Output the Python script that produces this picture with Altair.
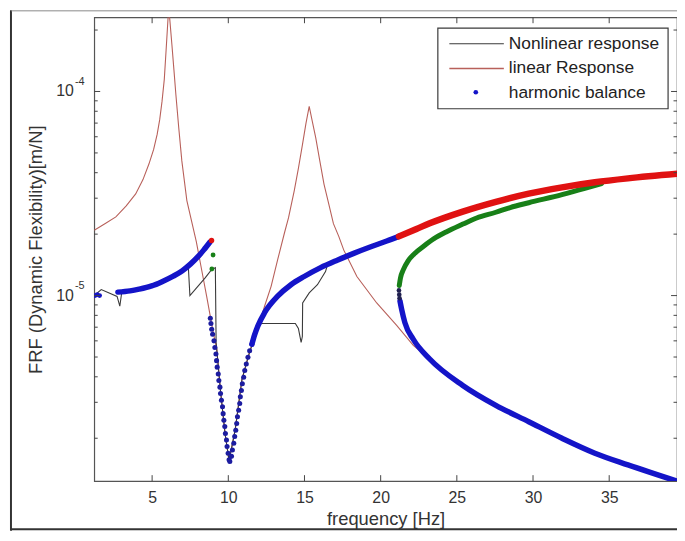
import altair as alt
import pandas as pd

# ---------------- data ----------------
# linear response (thin brownish red)
lin_f = [1.2, 1.9, 2.62, 3.3, 3.92, 4.4, 4.79, 5.1, 5.33, 5.5, 5.65, 5.8, 5.91, 6.09, 6.3,
         6.43, 6.56, 6.75, 6.95, 7.28, 7.9, 8.2, 8.58, 9.01, 9.24, 9.49, 9.79, 10.05, 10.45, 10.9,
         11.4, 11.94, 12.38, 12.81, 13.24, 13.68, 13.95, 14.33, 14.6, 14.87, 15.1, 15.31, 15.52, 15.74, 16.0,
         16.28, 16.6, 16.9, 17.25, 17.58, 18.44, 19.74, 21.05, 22.14, 23.22, 25.39, 27.56, 29.72, 31.9, 34.06,
         36.23, 39.48]
lin_y = [2.09e-5, 2.25e-5, 2.43e-5, 2.75e-5, 3.15e-5, 3.7e-5, 4.41e-5, 5.2e-5, 6.16e-5, 7.3e-5,
         8.94e-5, 1.15e-4, 1.56e-4, 2.6e-4, 1.69e-4, 1.28e-4, 9.63e-5, 6.6e-5, 4.57e-5, 2.92e-5,
         1.84e-5, 1.4e-5, 9.9e-6, 6.6e-6, 5.5e-6, 3.4e-6, 2.1e-6, 1.55e-6, 2.2e-6, 3.9e-6,
         5.3e-6, 6.9e-6, 8.87e-6, 1.11e-5, 1.5e-5, 2.02e-5, 2.4e-5, 3.27e-5, 4.2e-5, 5.51e-5,
         7.0e-5, 8.45e-5, 7.1e-5, 5.93e-5, 4.6e-5, 3.52e-5, 2.8e-5, 2.25e-5, 1.95e-5, 1.67e-5,
         1.24e-5, 9.2e-6, 7.15e-6, 5.7e-6, 4.89e-6, 3.63e-6, 2.9e-6, 2.41e-6, 2.0e-6, 1.69e-6,
         1.48e-6, 1.23e-6]

# nonlinear response (thin black)
nl_f = [1.2, 1.66, 2.18, 2.7, 2.88, 3.0, 3.55, 4.14, 4.97, 5.65, 6.39, 6.96, 7.38, 7.48, 8.48,
        8.9, 9.15, 9.2, 9.49, 9.79, 10.05, 10.45, 10.9, 11.4, 11.94, 12.16, 14.4, 14.6, 14.78, 14.86,
        14.88, 15.31, 15.85, 16.38, 16.49, 17.15, 18.23, 19.31, 20.4, 21.2, 23.22, 25.39, 27.56, 29.72, 31.9,
        34.06, 36.23, 39.48]
nl_y = [1.0e-5, 1.07e-5, 1.03e-5, 9.9e-6, 8.87e-6, 1.03e-5, 1.05e-5, 1.07e-5, 1.11e-5, 1.16e-5,
        1.24e-5, 1.31e-5, 1.37e-5, 1.0e-5, 1.22e-5, 1.34e-5, 1.37e-5, 5.9e-6, 3.4e-6, 2.1e-6,
        1.55e-6, 2.2e-6, 3.9e-6, 5.3e-6, 6.9e-6, 7.3e-6, 7.3e-6, 6.9e-6, 5.9e-6, 6.3e-6,
        9.2e-6, 1.03e-5, 1.13e-5, 1.31e-5, 1.4e-5, 1.49e-5, 1.61e-5, 1.73e-5, 1.85e-5, 1.95e-5,
        2.26e-5, 2.58e-5, 2.88e-5, 3.16e-5, 3.39e-5, 3.59e-5, 3.75e-5, 3.95e-5]

# harmonic balance: blue dots at the very start
hb_a_f = [1.25, 1.4, 1.55]
hb_a_y = [1.0e-5, 1.01e-5, 1.0e-5]
# blue branch up to the first jump
hb_b_f = [2.75, 3.55, 4.14, 4.97, 5.65, 6.39, 6.96, 7.53, 8.04, 8.38, 8.8]
hb_b_y = [1.04e-5, 1.055e-5, 1.075e-5, 1.115e-5, 1.17e-5, 1.245e-5, 1.32e-5, 1.43e-5, 1.56e-5, 1.67e-5, 1.83e-5]
# isolated dots at the jump
jump_red_f = [8.9]
jump_red_y = [1.86e-5]
jump_green_f = [9.0, 8.92]
jump_green_y = [1.58e-5, 1.35e-5]
# separated dots in the anti-resonance valley
val_f = [8.82, 8.86, 8.91, 8.97, 9.06, 9.12, 9.19, 9.23, 9.27, 9.34, 9.38, 9.45, 9.49, 9.55, 9.62,
         9.66, 9.71, 9.77, 9.81, 9.88, 9.92, 9.99, 10.05, 10.10, 10.21, 10.27, 10.36, 10.42, 10.49, 10.55,
         10.60, 10.68, 10.75, 10.79, 10.86, 10.92, 11.01, 11.08, 11.18, 11.29, 11.40, 11.55]
val_y = [7.75e-6, 7.3e-6, 6.84e-6, 6.47e-6, 6.0e-6, 5.57e-6, 5.17e-6, 4.80e-6, 4.46e-6, 4.13e-6,
         3.84e-6, 3.56e-6, 3.31e-6, 3.07e-6, 2.85e-6, 2.64e-6, 2.45e-6, 2.28e-6, 2.11e-6, 1.96e-6,
         1.82e-6, 1.69e-6, 1.57e-6, 1.54e-6, 1.63e-6, 1.75e-6, 1.89e-6, 2.04e-6, 2.19e-6, 2.36e-6,
         2.55e-6, 2.74e-6, 2.96e-6, 3.19e-6, 3.43e-6, 3.70e-6, 3.98e-6, 4.29e-6, 4.62e-6, 4.98e-6,
         5.37e-6, 5.78e-6]
# blue branch after the valley
hb_c_f = [11.55, 11.72, 11.94, 12.38, 13.24, 14.11, 14.98, 16.06, 17.15, 18.23, 19.31, 20.4, 21.2]
hb_c_y = [5.78e-6, 6.4e-6, 7.1e-6, 8.24e-6, 9.93e-6, 1.13e-5, 1.24e-5, 1.37e-5, 1.49e-5, 1.61e-5,
          1.73e-5, 1.85e-5, 1.95e-5]
# red upper branch
hb_r_f = [21.2, 22.35, 23.22, 25.39, 27.56, 29.72, 31.9, 34.06, 36.23, 39.48]
hb_r_y = [1.95e-5, 2.12e-5, 2.26e-5, 2.58e-5, 2.88e-5, 3.16e-5, 3.39e-5, 3.59e-5, 3.75e-5, 3.95e-5]
# green middle branch
hb_g_f = [21.22, 21.3, 21.49, 21.8, 22.2, 22.8, 23.5, 24.3, 25.4, 26.3, 27.56, 28.5, 29.72, 31.9,
          33.4, 34.5]
hb_g_y = [1.12e-5, 1.22e-5, 1.34e-5, 1.48e-5, 1.6e-5, 1.74e-5, 1.9e-5, 2.05e-5, 2.24e-5, 2.4e-5,
          2.56e-5, 2.7e-5, 2.85e-5, 3.12e-5, 3.35e-5, 3.54e-5]
# dark dots at the turning point
turn_f = [21.2, 21.22, 21.24]
turn_y = [1.06e-5, 1.01e-5, 9.7e-6]
# blue lower branch
hb_l_f = [21.27, 21.38, 21.59, 22.14, 23.22, 25.39, 27.56, 29.72, 31.9, 34.06, 36.23, 39.48]
hb_l_y = [9.4e-6, 8.55e-6, 7.37e-6, 6.11e-6, 4.89e-6, 3.63e-6, 2.9e-6, 2.41e-6, 2.0e-6, 1.69e-6,
          1.48e-6, 1.23e-6]

# axis ticks and labels
x_ticks = [5, 10, 15, 20, 25, 30, 35]
y_major = [1e-5, 1e-4]
y_base = ["10", "10"]
y_exp = ["-5", "-4"]
y_minor = [2e-6, 3e-6, 4e-6, 5e-6, 6e-6, 7e-6, 8e-6, 9e-6,
           2e-5, 3e-5, 4e-5, 5e-5, 6e-5, 7e-5, 8e-5, 9e-5, 2e-4]
legend_labels = ["Nonlinear response", "linear Response", "harmonic balance"]

# ---------------- styling ----------------
FONT = "Liberation Sans"
W, H = 588, 468
C_LIN = "#b8605a"
C_NL = "#3a3a3a"
C_BLUE = "#1414c8"
C_RED = "#e01212"
C_GREEN = "#188018"
C_DOT = "#1c1ca0"
C_AX = "#444444"
TXT = "#333333"

xs = alt.Scale(domain=[1.2, 39.45], nice=False, zero=False)
ys = alt.Scale(type="log", domain=[1.233e-6, 2.31e-4], nice=False)

x_axis = alt.Axis(values=x_ticks, ticks=False, tickSize=0, domain=False, grid=False,
                  labelFontSize=16, labelFont=FONT, labelColor=TXT, labelPadding=9,
                  labelFlush=False, title="frequency [Hz]", titleFontSize=18.5, titleFont=FONT,
                  titleFontWeight="normal", titleColor=TXT, titleY=44, titleBaseline="alphabetic")
y_axis = alt.Axis(labels=False, ticks=False, tickSize=0, domain=False, grid=False,
                  title="FRF (Dynamic Flexibility)[m/N]", titleFontSize=18.5, titleFont=FONT,
                  titleFontWeight="normal", titleColor=TXT, titleX=-59, titleY=H / 2,
                  titleAngle=-90, titleBaseline="middle", titleAlign="center")

X = alt.X("f:Q", scale=xs, axis=x_axis)
Y = alt.Y("v:Q", scale=ys, axis=y_axis)


def frame(f, v):
    return pd.DataFrame({"f": f, "v": v})


one = pd.DataFrame({"k": [0]})

layers = []
layers.append(alt.Chart(frame(lin_f, lin_y)).mark_line(color=C_LIN, strokeWidth=1.1, clip=True)
              .encode(x=X, y=Y, order="f:Q"))
layers.append(alt.Chart(frame(nl_f, nl_y).reset_index()).mark_line(color=C_NL, strokeWidth=1.1, clip=True)
              .encode(x=X, y=Y, order="index:Q"))
layers.append(alt.Chart(frame(hb_a_f, hb_a_y)).mark_circle(color=C_BLUE, size=24, opacity=1, clip=True)
              .encode(x=X, y=Y))
layers.append(alt.Chart(frame(hb_b_f, hb_b_y)).mark_line(color=C_BLUE, strokeWidth=5.5, strokeCap="round",
                                                         interpolate="monotone", clip=True)
              .encode(x=X, y=Y))
layers.append(alt.Chart(frame(val_f, val_y)).mark_circle(color=C_DOT, size=26, opacity=1, clip=True)
              .encode(x=X, y=Y))
layers.append(alt.Chart(frame(hb_c_f, hb_c_y)).mark_line(color=C_BLUE, strokeWidth=5.5, strokeCap="round",
                                                         interpolate="monotone", clip=True)
              .encode(x=X, y=Y))
layers.append(alt.Chart(frame(hb_l_f, hb_l_y)).mark_line(color=C_BLUE, strokeWidth=5.5, strokeCap="round",
                                                         interpolate="monotone", clip=True)
              .encode(x=X, y=Y))
layers.append(alt.Chart(frame(hb_g_f, hb_g_y)).mark_line(color=C_GREEN, strokeWidth=5, strokeCap="round",
                                                         interpolate="monotone", clip=True)
              .encode(x=X, y=Y))
layers.append(alt.Chart(frame(hb_r_f, hb_r_y)).mark_line(color=C_RED, strokeWidth=6.5, strokeCap="round",
                                                         interpolate="monotone", clip=True)
              .encode(x=X, y=Y))
layers.append(alt.Chart(frame(jump_red_f, jump_red_y)).mark_circle(color=C_RED, size=30, opacity=1)
              .encode(x=X, y=Y))
layers.append(alt.Chart(frame(jump_green_f, jump_green_y)).mark_circle(color=C_GREEN, size=24, opacity=1)
              .encode(x=X, y=Y))
layers.append(alt.Chart(frame(turn_f, turn_y)).mark_circle(color="#202050", size=22, opacity=1)
              .encode(x=X, y=Y))

# inward ticks (MATLAB style) on all four sides
xt = pd.DataFrame({"f": x_ticks})
layers.append(alt.Chart(xt).mark_rule(color=C_AX, strokeWidth=1)
              .encode(x=X, y=alt.value(H), y2=alt.value(H - 6)))
layers.append(alt.Chart(xt).mark_rule(color=C_AX, strokeWidth=1)
              .encode(x=X, y=alt.value(0), y2=alt.value(6)))
ym = pd.DataFrame({"v": y_major, "b": y_base, "e": y_exp})
yn = pd.DataFrame({"v": y_minor})
for x0, x1 in ((0, 6), (W, W - 6)):
    layers.append(alt.Chart(ym).mark_rule(color=C_AX, strokeWidth=1)
                  .encode(y=Y, x=alt.value(x0), x2=alt.value(x1)))
for x0, x1 in ((0, 3.5), (W, W - 3.5)):
    layers.append(alt.Chart(yn).mark_rule(color=C_AX, strokeWidth=1)
                  .encode(y=Y, x=alt.value(x0), x2=alt.value(x1)))

# y tick labels: 10 with superscript exponent
layers.append(alt.Chart(ym).mark_text(align="right", baseline="middle", fontSize=16, font=FONT, color=TXT)
              .encode(y=Y, x=alt.value(-20.5), text="b:N"))
layers.append(alt.Chart(ym).mark_text(align="left", baseline="middle", fontSize=11, font=FONT, color=TXT, dy=-10)
              .encode(y=Y, x=alt.value(-19.5), text="e:N"))

# legend (drawn by hand, MATLAB style)
layers.append(alt.Chart(one).mark_rect(fill="white", stroke="#3a3a3a", strokeWidth=1.2)
              .encode(x=alt.value(346.7), x2=alt.value(579), y=alt.value(11), y2=alt.value(92.3)))
leg_top, leg_step = 26.7, 25
layers.append(alt.Chart(one).mark_rule(color=C_NL, strokeWidth=1.2)
              .encode(x=alt.value(358.3), x2=alt.value(413.3), y=alt.value(leg_top)))
layers.append(alt.Chart(one).mark_rule(color=C_LIN, strokeWidth=1.4)
              .encode(x=alt.value(358.3), x2=alt.value(413.3), y=alt.value(leg_top + leg_step)))
layers.append(alt.Chart(one).mark_circle(color=C_BLUE, size=22, opacity=1)
              .encode(x=alt.value(385), y=alt.value(leg_top + 2 * leg_step - 1)))
for i, lab in enumerate(legend_labels):
    layers.append(alt.Chart(pd.DataFrame({"label": [lab]}))
                  .mark_text(align="left", baseline="middle", fontSize=17.5, font=FONT, color="#222222")
                  .encode(x=alt.value(418.3), y=alt.value(leg_top + i * leg_step), text="label:N"))

# outer figure frame
layers.append(alt.Chart(one).mark_rule(color="#333333", strokeWidth=2)
              .encode(x=alt.value(-84), y=alt.value(-7), y2=alt.value(518)))
layers.append(alt.Chart(one).mark_rule(color="#333333", strokeWidth=2)
              .encode(x=alt.value(-84), x2=alt.value(590), y=alt.value(516.5)))
layers.append(alt.Chart(one).mark_rule(color="#888888", strokeWidth=1)
              .encode(x=alt.value(-84), x2=alt.value(590), y=alt.value(-6.5)))

chart = (alt.layer(*layers)
         .properties(width=W, height=H,
                     padding={"left": 87, "top": 7, "right": 0, "bottom": 50},
                     autosize=alt.AutoSizeParams(type="none"))
         .configure(background="white")
         .configure_view(stroke="#555555", strokeWidth=1.2))

chart.save("out.html", embed_options={"renderer": "svg", "actions": False})
